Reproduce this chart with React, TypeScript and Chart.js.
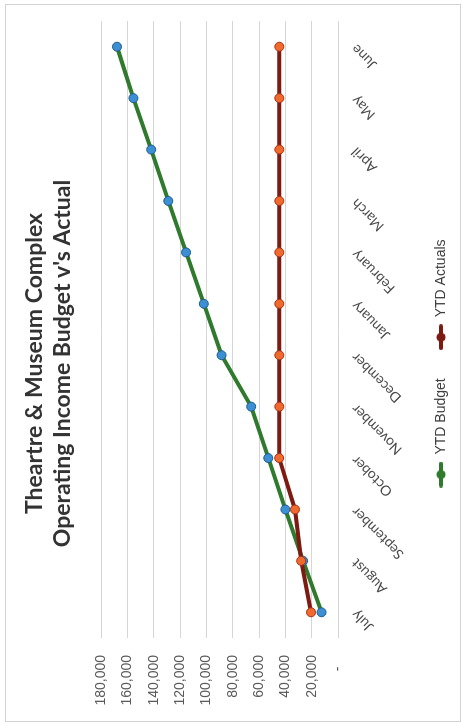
import { useEffect, useRef } from "react";
import { Chart, registerables } from "chart.js";

Chart.register(...registerables);

const months = [
  "July", "August", "September", "October", "November", "December",
  "January", "February", "March", "April", "May", "June",
];
const ytdBudget = [12500, 26500, 40000, 53000, 66000, 88500, 102000, 115500, 129000, 142000, 155500, 168000];
const ytdActuals = [20500, 28000, 32700, 44700, 44600, 44600, 44600, 44600, 44600, 44600, 44600, 44600];
const titleLines = ["Theartre & Museum Complex", "Operating Income Budget v's Actual"];
const seriesNames = ["YTD Budget", "YTD Actuals"];

const W = 726;
const H = 462;

function legendMarker(color: string): HTMLCanvasElement {
  const c = document.createElement("canvas");
  c.width = 26;
  c.height = 12;
  const ctx = c.getContext("2d")!;
  ctx.strokeStyle = color;
  ctx.lineWidth = 4;
  ctx.lineCap = "round";
  ctx.beginPath();
  ctx.moveTo(2, 6);
  ctx.lineTo(24, 6);
  ctx.stroke();
  ctx.fillStyle = color;
  ctx.beginPath();
  ctx.arc(13, 6, 4.5, 0, Math.PI * 2);
  ctx.fill();
  return c;
}

export default function App() {
  const ref = useRef<HTMLCanvasElement | null>(null);

  useEffect(() => {
    if (!ref.current) return;
    const green = "#2f7a2c";
    const red = "#7d1a12";
    const markers = [legendMarker(green), legendMarker(red)];
    const chart = new Chart(ref.current, {
      type: "line",
      data: {
        labels: months,
        datasets: [
          {
            label: seriesNames[0],
            data: ytdBudget,
            order: 1,
            borderColor: green,
            backgroundColor: green,
            borderWidth: 4,
            pointRadius: 4.5,
            pointBackgroundColor: "#3b8fd2",
            pointBorderColor: "#1d5c8e",
            pointBorderWidth: 1,
            tension: 0,
            pointStyle: "circle",
          },
          {
            label: seriesNames[1],
            data: ytdActuals,
            order: 0,
            borderColor: red,
            backgroundColor: red,
            borderWidth: 4,
            pointRadius: 4.5,
            pointBackgroundColor: "#ef6a2c",
            pointBorderColor: "#a83015",
            pointBorderWidth: 1,
            tension: 0,
            pointStyle: "circle",
          },
        ],
      },
      options: {
        responsive: false,
        animation: false,
        layout: { padding: { top: 0, left: 20, right: 21, bottom: 4 } },
        plugins: {
          title: {
            display: true,
            text: titleLines,
            color: "#333333",
            font: { family: "Lato", size: 23, weight: "bold", lineHeight: 1.2 },
            padding: { top: 21, bottom: 25 },
          },
          legend: {
            position: "bottom",
            labels: {
              usePointStyle: true,
              pointStyleWidth: 26,
              padding: 28,
              color: "#404040",
              font: { family: "Liberation Sans", size: 14 },
              sort: (a: any, b: any) => a.datasetIndex - b.datasetIndex,
              generateLabels: (ch: any) =>
                ch.data.datasets.map((ds: any, i: number) => ({
                  text: ds.label,
                  datasetIndex: i,
                  pointStyle: markers[i],
                  fillStyle: ds.borderColor,
                  strokeStyle: ds.borderColor,
                  lineWidth: 0,
                  hidden: false,
                  fontColor: "#404040",
                })),
            },
          },
          tooltip: { enabled: false },
        },
        scales: {
          x: {
            type: "category",
            offset: true,
            grid: { display: false, drawTicks: false },
            border: { display: false },
            ticks: {
              minRotation: 45,
              maxRotation: 45,
              autoSkip: false,
              padding: 10,
              color: "#4a4a4a",
              font: { family: "Lato", size: 14 },
            },
            afterFit: (s: any) => {
              s.height = 68;
            },
          },
          y: {
            min: 0,
            max: 180000,
            grid: { color: "#d6d6d6", lineWidth: 1, drawTicks: false },
            border: { display: false },
            ticks: {
              stepSize: 20000,
              padding: 17,
              color: "#595959",
              font: { family: "Liberation Sans", size: 14 },
              callback: (v: any) => (Number(v) === 0 ? "-   " : Number(v).toLocaleString("en-US")),
            },
            afterFit: (s: any) => {
              s.width = 68;
            },
          },
        },
      },
    });
    return () => chart.destroy();
  }, []);

  return (
    <div
      style={{
        position: "fixed",
        left: 0,
        top: 0,
        width: W,
        height: H,
        background: "#fff",
        transformOrigin: "0 0",
        transform: `translate(0px, ${W}px) rotate(-90deg)`,
      }}
    >
      <canvas ref={ref} width={W} height={H} style={{ position: "absolute", left: 0, top: 0 }} />
      <div
        style={{
          position: "absolute",
          left: 4,
          top: 5,
          width: 716,
          height: 454,
          border: "1px solid #d2d2d2",
          pointerEvents: "none",
        }}
      />
    </div>
  );
}
